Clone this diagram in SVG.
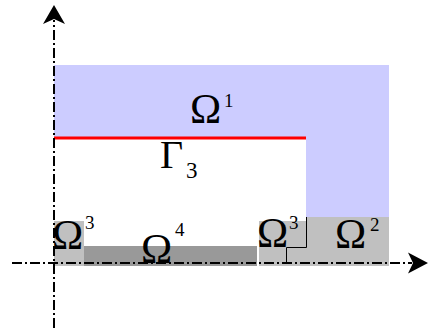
<svg xmlns="http://www.w3.org/2000/svg" width="430" height="333" viewBox="0 0 430 333">
<style>
text{font-family:'Liberation Serif','Times New Roman','DejaVu Serif',serif;fill:#000}
.big{font-size:42px}
.sup{font-size:19px}
.axis{stroke:#000;stroke-width:2;stroke-dasharray:10 3 2 3;fill:none}
.thin{stroke:#000;stroke-width:1;fill:none}
.lg{fill:#c0c0c0}
.dg{fill:#999999}
</style>
<rect width="430" height="333" fill="#fff"/>
<g id="omega1">
<path d="M54,65 H389 V217 H306 V138 H54 Z" fill="#ccccff"/>
<text class="big" x="190" y="123">Ω</text>
<text class="sup" x="224" y="107">1</text>
</g>
<g id="gamma3">
<line x1="54" y1="138" x2="306" y2="138" stroke="#ff0000" stroke-width="3"/>
<text style="font-size:40px" x="160" y="168">Γ</text>
<text style="font-size:23px" x="186" y="178">3</text>
</g>
<g id="omega2">
<rect class="lg" x="306" y="217" width="83" height="49"/>
<text class="big" x="335" y="248">Ω</text>
<text class="sup" x="370" y="231">2</text>
</g>
<g id="omega3-left">
<rect class="lg" x="54" y="221" width="30" height="45"/>
<text class="big" x="52" y="249">Ω</text>
<text class="sup" x="85" y="229">3</text>
</g>
<g id="omega4">
<rect class="dg" x="84" y="246" width="173" height="20"/>
<text class="big" x="141" y="263">Ω</text>
<text class="sup" x="175" y="236">4</text>
</g>
<g id="omega3-right">
<rect class="lg" x="259" y="221" width="47" height="45"/>
<text class="big" x="257" y="247">Ω</text>
<text class="sup" x="289" y="229">3</text>
</g>
<g id="connectors">
<path class="thin" d="M306.5,217 V247.5 H286.5 V263"/>
<line class="axis" x1="54" y1="328" x2="54" y2="20"/>
<polygon points="54,5 43,24 54,19 65,24" fill="#000"/>
<line class="axis" x1="12" y1="263" x2="412" y2="263"/>
<polygon points="428,263 408,252.5 413,263 408,273.5" fill="#000"/>
</g>
</svg>
